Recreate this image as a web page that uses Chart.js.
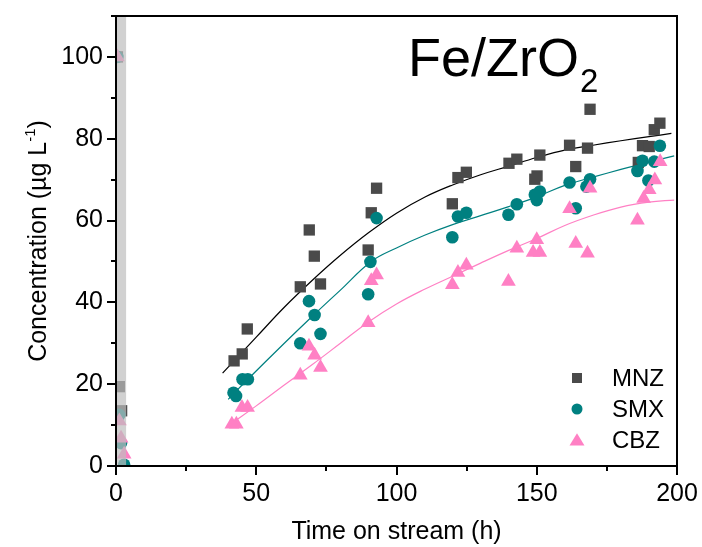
<!DOCTYPE html>
<html>
<head>
<meta charset="utf-8">
<script src="https://cdn.jsdelivr.net/npm/chart.js@4/dist/chart.umd.min.js"></script>
<style>
    html, body { margin: 0; padding: 0; background: #fff; }
    #wrap { width: 702px; height: 547px; }
</style>
</head>
<body>
<div id="wrap"><canvas id="chart" width="702" height="547"></canvas></div>
<script>
// Måledata: tid (h) og konsentrasjon (µg/L)
const mnzTime = [0.5, 1.2, 2.0, 42.1, 45.0, 46.8, 65.7, 68.9, 70.7, 72.9, 89.9, 91.0, 92.9, 119.9, 121.9, 124.9, 140.1, 142.9, 149.3, 150.1, 151.1, 161.7, 163.9, 168.1, 169.0, 186.2, 187.7, 190.1, 191.9, 193.9];
const mnzConc = [100, 19.4, 13.5, 25.7, 27.4, 33.5, 43.8, 57.7, 51.3, 44.5, 52.8, 61.9, 67.9, 64.1, 70.5, 71.8, 74.0, 75.0, 70.1, 70.9, 76.0, 78.4, 73.2, 77.7, 87.2, 74.2, 78.3, 78.1, 82.2, 83.8];

const smxTime = [0.5, 1.2, 1.8, 2.9, 41.9, 42.8, 45.1, 47.0, 65.7, 68.8, 70.8, 72.9, 89.9, 90.7, 92.9, 119.9, 121.9, 124.9, 139.9, 142.9, 149.3, 150.0, 151.1, 161.7, 163.9, 167.7, 169.0, 185.9, 187.7, 189.8, 191.9, 193.9];
const smxConc = [100, 12.5, 5.6, 0.3, 17.9, 17.1, 21.2, 21.2, 30.0, 40.3, 36.9, 32.3, 42.0, 49.9, 60.6, 55.9, 61.0, 61.9, 61.4, 64.0, 66.3, 65.0, 67.1, 69.3, 63.0, 68.3, 70.1, 72.1, 74.6, 69.8, 74.4, 78.3];

const cbzTime = [0.5, 1.2, 1.8, 2.9, 41.3, 42.9, 44.9, 46.9, 65.7, 68.8, 70.8, 72.9, 89.9, 91.0, 92.9, 119.9, 121.9, 124.9, 139.9, 142.9, 148.7, 150.0, 151.1, 161.7, 163.9, 168.1, 169.0, 185.9, 188.1, 190.1, 192.1, 194.0];
const cbzConc = [100, 11.0, 6.8, 2.9, 10.2, 10.2, 14.3, 14.3, 22.2, 29.3, 27.1, 24.1, 35.0, 45.3, 46.7, 44.3, 47.3, 49.1, 45.1, 53.2, 52.2, 55.3, 52.2, 62.9, 54.4, 52.0, 67.9, 60.1, 65.4, 67.5, 69.9, 74.4];

// Tilpassede kurver (lest av figuren)
const mnzFitTime = [38, 50, 60, 70, 80, 90, 100, 110, 120, 130, 140, 150, 160, 170, 180, 190, 198];
const mnzFitConc = [22.7, 31.5, 38.8, 45.4, 51.5, 57.0, 61.8, 65.7, 68.7, 71.2, 73.3, 75.4, 77.2, 78.4, 79.5, 80.5, 81.3];
const smxFitTime = [40, 47, 60, 70, 80, 91, 100, 110, 120, 130, 140, 150, 160, 170, 180, 190, 199];
const smxFitConc = [16.3, 21.2, 30.0, 36.6, 43.0, 50.0, 53.3, 56.4, 59.0, 61.2, 63.4, 65.8, 68.6, 70.6, 72.5, 74.3, 75.8];
const cbzFitTime = [42, 50, 60, 70, 80, 90, 100, 110, 120, 130, 140, 150, 160, 170, 180, 190, 199];
const cbzFitConc = [10.8, 14.7, 19.8, 24.8, 30.0, 35.2, 39.6, 43.2, 46.4, 49.6, 52.7, 55.6, 58.8, 61.3, 63.3, 64.5, 65.0];

const seriesNames = ['MNZ', 'SMX', 'CBZ'];
const bandEnd = 3.6; // grått felt ved oppstart (h)

const FONT = "'Liberation Sans', Arial, sans-serif";
const colors = { MNZ: '#4a4a4a', SMX: '#008080', CBZ: '#ff80c4' };

function toPoints(xs, ys) {
    return xs.map((x, i) => ({ x: x, y: ys[i] }));
}

// Tegner et markørsymbol
function drawMarker(ctx, style, x, y, r, color) {
    ctx.save();
    ctx.fillStyle = color;
    ctx.beginPath();
    if (style === 'rect') {
        ctx.rect(x - r, y - r, 2 * r, 2 * r);
    } else if (style === 'circle') {
        ctx.arc(x, y, r, 0, Math.PI * 2);
    } else {
        ctx.moveTo(x, y - r * 1.05);
        ctx.lineTo(x + r * 1.15, y + r * 0.85);
        ctx.lineTo(x - r * 1.15, y + r * 0.85);
        ctx.closePath();
    }
    ctx.fill();
    ctx.restore();
}

// Grått felt, ramme, tikkmerker, tittel og forklaring
const decorPlugin = {
    id: 'decor',
    afterDatasetsDraw(chart) {
        const ctx = chart.ctx;
        const area = chart.chartArea;
        const xs = chart.scales.x;
        const ys = chart.scales.y;

        // grått felt over punktene
        const bx0 = xs.getPixelForValue(0);
        const bx1 = xs.getPixelForValue(bandEnd);
        ctx.save();
        ctx.fillStyle = 'rgba(190,190,190,0.7)';
        ctx.fillRect(bx0, area.top, bx1 - bx0, area.bottom - area.top);
        ctx.restore();

        // ramme
        ctx.save();
        ctx.strokeStyle = '#000';
        ctx.lineWidth = 2;
        ctx.strokeRect(area.left, area.top, area.right - area.left, area.bottom - area.top);

        // tikkmerker
        ctx.beginPath();
        ys.ticks.forEach(t => {
            const py = Math.round(ys.getPixelForValue(t.value));
            const len = t.value % 20 === 0 ? 9 : 5;
            ctx.moveTo(area.left, py);
            ctx.lineTo(area.left - len, py);
        });
        xs.ticks.forEach(t => {
            const px = Math.round(xs.getPixelForValue(t.value));
            const len = t.value % 50 === 0 ? 9 : 5;
            ctx.moveTo(px, area.bottom);
            ctx.lineTo(px, area.bottom + len);
        });
        ctx.stroke();
        ctx.restore();

        // y-aksetittel med hevet skrift
        ctx.save();
        ctx.translate(39, (area.top + area.bottom) / 2);
        ctx.rotate(-Math.PI / 2);
        ctx.fillStyle = '#000';
        ctx.textBaseline = 'middle';
        const main = 'Concentration (\u00b5g L';
        const sup = '-1';
        const end = ')';
        ctx.font = '25px ' + FONT;
        const wMain = ctx.measureText(main).width;
        const wEnd = ctx.measureText(end).width;
        ctx.font = '15px ' + FONT;
        const wSup = ctx.measureText(sup).width;
        const x0 = -(wMain + wSup + wEnd) / 2;
        ctx.font = '25px ' + FONT;
        ctx.fillText(main, x0, 0);
        ctx.font = '15px ' + FONT;
        ctx.fillText(sup, x0 + wMain, -8);
        ctx.font = '25px ' + FONT;
        ctx.fillText(end, x0 + wMain + wSup, 0);
        ctx.restore();

        // tittel Fe/ZrO2
        ctx.save();
        ctx.fillStyle = '#000';
        ctx.textBaseline = 'alphabetic';
        ctx.font = '54px ' + FONT;
        ctx.fillText('Fe/ZrO', 408, 76);
        const wt = ctx.measureText('Fe/ZrO').width;
        ctx.font = '33px ' + FONT;
        ctx.fillText('2', 408 + wt + 1, 92);
        ctx.restore();

        // forklaring
        const styles = { MNZ: 'rect', SMX: 'circle', CBZ: 'triangle' };
        const sizes = { MNZ: 5, SMX: 5.5, CBZ: 6.5 };
        ctx.save();
        ctx.font = '24px ' + FONT;
        ctx.textBaseline = 'middle';
        seriesNames.forEach((name, i) => {
            const ly = 378 + i * 31;
            drawMarker(ctx, styles[name], 577, ly, sizes[name], colors[name]);
            ctx.fillStyle = '#000';
            ctx.fillText(name, 612, ly + 1);
        });
        ctx.restore();
    }
};

function fitLine(label, xs, ys, color) {
    return {
        label: label,
        data: toPoints(xs, ys),
        showLine: true,
        borderColor: color,
        borderWidth: 1.2,
        pointRadius: 0,
        tension: 0.4,
        fill: false,
        order: 5
    };
}

const ctx = document.getElementById('chart').getContext('2d');
new Chart(ctx, {
    type: 'scatter',
    data: {
        datasets: [
            {
                label: 'MNZ',
                data: toPoints(mnzTime, mnzConc),
                pointStyle: 'rect',
                pointRadius: 8,
                backgroundColor: colors.MNZ,
                borderWidth: 0,
                order: 3
            },
            {
                label: 'SMX',
                data: toPoints(smxTime, smxConc),
                pointStyle: 'circle',
                pointRadius: 6.3,
                backgroundColor: colors.SMX,
                borderWidth: 0,
                order: 2
            },
            {
                label: 'CBZ',
                data: toPoints(cbzTime, cbzConc),
                pointStyle: 'triangle',
                pointRadius: 8.5,
                backgroundColor: colors.CBZ,
                borderWidth: 0,
                order: 1
            },
            fitLine('MNZ fit', mnzFitTime, mnzFitConc, '#000000'),
            fitLine('SMX fit', smxFitTime, smxFitConc, '#008080'),
            fitLine('CBZ fit', cbzFitTime, cbzFitConc, '#ff80c4')
        ]
    },
    options: {
        responsive: false,
        animation: false,
        layout: { padding: { left: 0, top: 16, right: 25, bottom: 0 } },
        plugins: {
            legend: { display: false },
            tooltip: { enabled: false }
        },
        scales: {
            x: {
                type: 'linear',
                min: 0,
                max: 200,
                grid: { display: false, drawTicks: false },
                border: { display: false },
                ticks: {
                    stepSize: 25,
                    padding: 13,
                    color: '#000',
                    font: { family: FONT, size: 25 },
                    maxRotation: 0,
                    autoSkip: false,
                    callback: v => (v % 50 === 0 ? String(v) : '')
                },
                title: {
                    display: true,
                    text: 'Time on stream (h)',
                    color: '#000',
                    font: { family: FONT, size: 25 },
                    padding: { top: 0, bottom: 0 }
                },
                afterFit: scale => {
                    scale.height = 81;
                    scale.paddingLeft = 0;
                    scale.paddingRight = 0;
                }
            },
            y: {
                type: 'linear',
                min: 0,
                max: 110,
                grid: { display: false, drawTicks: false },
                border: { display: false },
                ticks: {
                    stepSize: 10,
                    padding: 13,
                    color: '#000',
                    font: { family: FONT, size: 25 },
                    autoSkip: false,
                    callback: v => (v % 20 === 0 ? String(v) : '')
                },
                afterFit: scale => {
                    scale.width = 116;
                    scale.paddingTop = 0;
                    scale.paddingBottom = 0;
                }
            }
        }
    },
    plugins: [decorPlugin]
});
</script>
</body>
</html>
